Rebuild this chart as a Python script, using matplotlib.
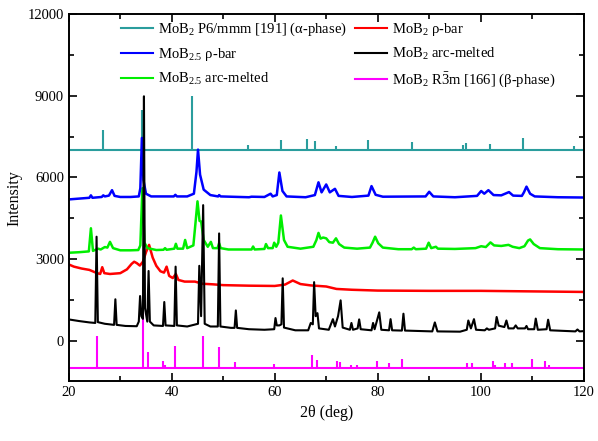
import numpy as np
import matplotlib
matplotlib.use('Agg')
import matplotlib.pyplot as plt

plt.rcParams['font.family'] = ['Liberation Serif', 'DejaVu Serif']
plt.rcParams['mathtext.fontset'] = 'custom'
plt.rcParams['mathtext.rm'] = 'Liberation Serif'
plt.rcParams['mathtext.it'] = 'Liberation Serif:italic'

# Patterns: 2theta (deg) vs intensity (a.u., offset)
tt_blue = [20, 22, 24.0, 24.3, 24.6, 26.4, 26.7, 27.0, 27.8, 28.4, 28.9, 30, 32, 33.6, 33.9, 34.2, 34.5, 35.0,
           36, 40.4, 40.7, 41.0, 43, 44.3, 44.8, 45.1, 45.5, 46.2, 47.5, 49.0, 49.2, 49.5, 55, 55.5, 58, 59.2,
           59.6, 60.4, 60.9, 61.5, 62.3, 66, 67.8, 68.5, 69.1, 70.0, 70.7, 71.7, 72.4, 75, 78.2, 78.8, 79.6, 81,
           89.3, 90.0, 90.8, 95, 99.3, 100.1, 100.7, 101.5, 102.5, 104, 105.5, 106.3, 108.0, 108.4, 108.9,
           109.6, 110.5, 115, 120]
I_blue = [5190, 5220, 5250, 5340, 5250, 5280, 5340, 5300, 5330, 5530, 5320, 5280, 5280, 5300, 5600, 7450, 5900, 5400,
          5300, 5300, 5360, 5300, 5300, 5400, 6200, 7020, 6100, 5550, 5350, 5300, 5350, 5300, 5270, 5290, 5280, 5400,
          5300, 5350, 6180, 5500, 5300, 5270, 5350, 5820, 5450, 5740, 5450, 5580, 5320, 5280, 5330, 5680, 5360, 5290,
          5300, 5470, 5300, 5270, 5320, 5500, 5400, 5530, 5350, 5340, 5460, 5330, 5320, 5450, 5660,
          5400, 5300, 5270, 5260]

tt_green = [20, 22, 23.9, 24.3, 24.7, 25.7, 26.2, 27.0, 27.5, 28.0, 28.6, 30, 32, 33.5, 33.9, 34.3, 34.7, 35.3,
            37, 38.4, 38.7, 39.0, 40.5, 40.8, 41.1, 42.2, 42.6, 43.0, 44.2, 44.6, 45.0, 45.4, 45.7, 46.2, 47.0,
            47.6, 48.0, 48.9, 49.2, 49.5, 51, 55.5, 55.8, 56.1, 58.0, 58.3, 58.7, 59.6, 59.9, 60.3, 60.7, 61.2,
            61.8, 62.5, 65, 67.5, 68.1, 68.5, 68.9, 69.4, 70.0, 70.6, 71.3, 71.9, 72.5, 73.5, 76, 78.5, 79.0,
            79.5, 80.1, 81, 84, 86.6, 87.0, 87.4, 89.4, 89.9, 90.4, 91.3, 91.7, 95, 99, 100.1, 101.0, 101.9,
            102.6, 104, 105.4, 106.2, 107.5, 108.5, 109.2, 109.6, 110.3, 111.5, 115, 120]
I_green = [3230, 3250, 3280, 4130, 3300, 3380, 3350, 3440, 3420, 3630, 3400, 3320, 3320, 3330, 3500, 5600, 3600, 3400,
           3330, 3340, 3400, 3340, 3380, 3560, 3380, 3380, 3700, 3400, 3500, 4300, 5120, 4400, 4380, 3700, 3450,
           3630, 3400, 3400, 3580, 3400, 3350, 3350, 3460, 3350, 3370, 3550, 3400, 3400, 3600, 3450, 3600, 4600,
           3700, 3450, 3380, 3450, 3700, 3960, 3750, 3790, 3760, 3620, 3600, 3760, 3550, 3420, 3380, 3420, 3600,
           3820, 3580, 3420, 3360, 3360, 3420, 3360, 3380, 3600, 3400, 3450, 3380, 3370, 3400, 3470, 3440, 3610,
           3500, 3480, 3520, 3450, 3400, 3470, 3680, 3720, 3550, 3400, 3360, 3350]

tt_red = [20, 21, 22.5, 24, 25.5, 26.1, 26.5, 26.9, 28, 30, 31.3, 32.2, 32.7, 33.2, 33.8, 34.4, 35.0, 35.6, 36.3,
          37.0, 37.8, 38.5, 39.0, 39.5, 40.2, 40.8, 41.3, 42.5, 44.5, 46, 48, 50, 55, 60, 62, 63.5, 65, 67, 70,
          72, 75, 80, 90, 100, 110, 120]
I_red = [2800, 2720, 2650, 2600, 2480, 2450, 2700, 2480, 2450, 2480, 2620, 2820, 2900, 2850, 2760, 2900, 3250, 3520, 3050,
         2750, 2550, 2500, 2720, 2380, 2300, 2450, 2230, 2170, 2170, 2090, 2070, 2040, 2020, 2010, 2060, 2210, 2080, 2030, 1990,
         1900, 1870, 1840, 1830, 1830, 1810, 1790]

tt_black = [20, 22, 24, 25.15, 25.4, 25.65, 27, 28.8, 29.05, 29.3, 31, 33.2, 33.6, 33.85, 34.1, 34.4, 34.6, 34.8,
            35.25, 35.5, 35.75, 36.5, 38.3, 38.55, 38.8, 40.5, 40.75, 41.0, 43, 45.1, 45.35, 45.7, 46.1, 46.4, 47.5,
            48.95, 49.2, 49.45, 51.5, 52.2, 52.45, 52.7, 55, 58, 59.9, 60.15, 60.4, 60.9, 61.3, 61.55, 61.8, 64,
            66.5, 67.0, 67.4, 67.65, 67.95, 68.3, 68.6, 70.5, 71.3, 71.7, 72.3, 72.8, 73.2, 74.6, 74.9, 75.2, 76.1,
            76.4, 76.7, 78.8, 79.1, 79.4, 80.3, 80.7, 82.2, 82.5, 82.8, 84.7, 85.0, 85.3, 90.6, 91.1, 91.6, 96,
            97.3, 97.6, 98.1, 98.7, 99.1, 100.8, 101.2, 101.6, 102.8, 103.1, 103.5, 104.6, 105.0, 105.4, 106.4,
            106.8, 107.2, 108.6, 108.9, 109.2, 110.4, 110.7, 111.1, 112.8, 113.1, 113.5, 118.4, 118.8, 119.2, 120]
I_black = [780, 720, 670, 650, 3820, 680, 620, 580, 1520, 580, 540, 530, 700, 1640, 900, 800, 8980, 1200,
           700, 2560, 700, 560, 540, 1420, 560, 540, 2720, 560, 520, 620, 2750, 900, 4980, 620, 520,
           520, 3940, 520, 470, 470, 1110, 470, 420, 400, 420, 830, 560, 560, 600, 2290, 480, 380,
           380, 650, 600, 2150, 900, 1010, 450, 400, 790, 520, 900, 1480, 480, 400, 650, 400, 450,
           780, 420, 380, 650, 420, 1040, 400, 380, 790, 380, 370, 990, 370, 340, 670, 340, 330,
           400, 740, 450, 790, 400, 380, 450, 400, 450, 870, 550, 500, 740, 450, 450,
           560, 450, 450, 540, 420, 420, 810, 400, 420, 770, 380, 340, 410, 340, 350]

# reference sticks
alpha_pos = [26.6, 34.2, 43.9, 54.9, 61.2, 66.2, 67.8, 71.9, 78.2, 86.6, 96.5, 97.1, 101.9, 108.3, 118.1]
alpha_top = [7750, 8490, 8980, 7200, 7390, 7420, 7330, 7160, 7360, 7310, 7190, 7250, 7210, 7460, 7160]
alpha_base = 7000

beta_pos = [25.5, 34.4, 35.3, 38.3, 38.6, 40.6, 46.0, 49.1, 52.3, 59.9, 62.8, 67.3, 68.2, 72.0, 72.7, 74.8,
            76.0, 79.8, 82.2, 84.7, 91.0, 97.3, 98.4, 100.9, 102.3, 102.8, 104.7, 106.1, 110.0, 112.5, 113.3, 118.6]
beta_top = [180, 1010, -400, -730, -900, -210, 170, -240, -770, -860, -960, -510, -700, -760, -800, -900,
            -880, -760, -830, -660, -970, -830, -830, -960, -760, -880, -830, -830, -670, -740, -900, -960]
beta_base = -1000

fig = plt.figure(figsize=(5.98, 4.41), dpi=100)
ax = fig.add_axes([0.115, 0.135, 0.861, 0.833])

teal = '#2a9d9d'
ax.axhline(alpha_base, color=teal, lw=1.5)
ax.vlines(alpha_pos, alpha_base, alpha_top, color=teal, lw=1.5)
ax.axhline(beta_base, color='magenta', lw=1.5)
ax.vlines(beta_pos, beta_base, beta_top, color='magenta', lw=1.5)

ax.plot(tt_red, I_red, color='red', lw=1.8)
ax.plot(tt_green, I_green, color='#00ee00', lw=1.8)
ax.plot(tt_blue, I_blue, color='blue', lw=1.8)
ax.plot(tt_black, I_black, color='black', lw=1.5)

# legend handles in column order
labels = ['MoB$_2$ P6/mmm [191] (α-phase)', 'MoB$_{2.5}$ ρ-bar', 'MoB$_{2.5}$ arc-melted',
          'MoB$_2$ ρ-bar', 'MoB$_2$ arc-melted', 'MoB$_2$ R$\\bar{3}$m [166] (β-phase)']
colors = [teal, 'blue', '#00ee00', 'red', 'black', 'magenta']
handles = [plt.Line2D([], [], color=c, lw=1.5) for c in colors]
ax.legend(handles, labels, ncol=2, loc='upper left', bbox_to_anchor=(0.075, 1.018), frameon=False,
          fontsize=10.5, handlelength=2.2, handletextpad=0.35, columnspacing=0.55, labelspacing=0.55)

ax.set_xlim(20, 120)
ax.set_ylim(-1500, 12000)
ax.set_xticks([20, 40, 60, 80, 100, 120])
ax.set_xticks([30, 50, 70, 90, 110], minor=True)
ax.set_yticks([0, 3000, 6000, 9000, 12000])
ax.set_yticks([1500, 4500, 7500, 10500], minor=True)
ax.tick_params(which='both', direction='in', top=True, right=True, labelsize=10.5, width=1.2)
ax.tick_params(which='major', length=6)
ax.tick_params(which='minor', length=3.5)
for s in ax.spines.values():
    s.set_linewidth(1.4)
ax.set_xlabel('2θ (deg)', fontsize=11.5)
ax.set_ylabel('Intensity', fontsize=11.5)

fig.savefig('out.png', dpi=100)
